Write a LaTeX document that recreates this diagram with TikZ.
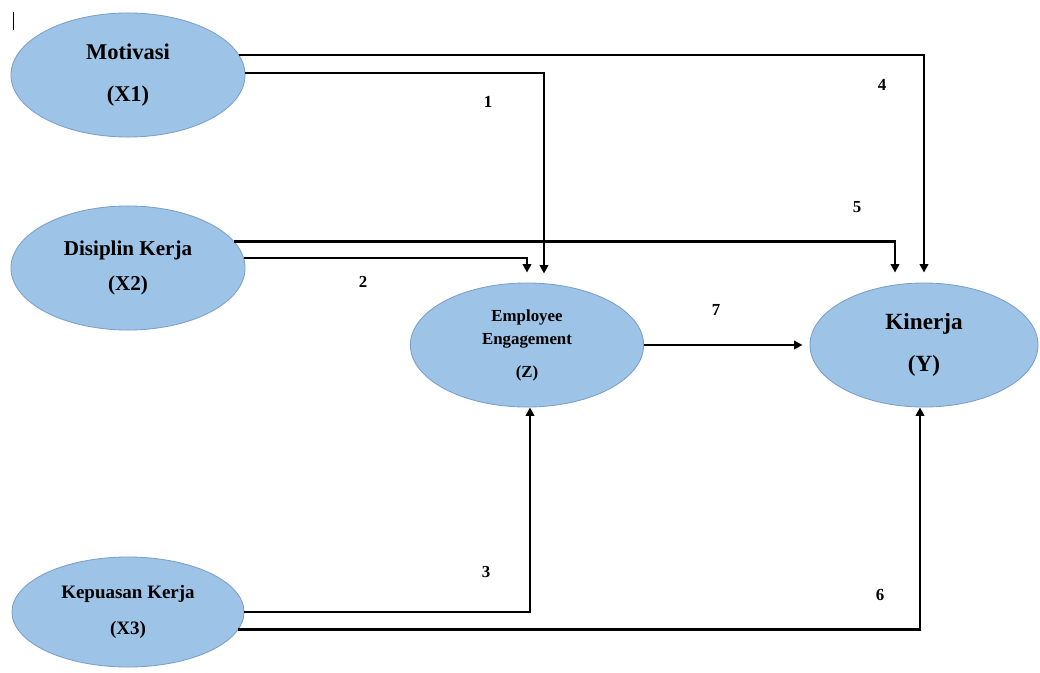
\documentclass[tikz,border=0pt]{standalone}
\usepackage{fontspec}
\setmainfont{Liberation Serif}
\usepackage{tikz}
\usetikzlibrary{positioning,arrows.meta,shapes.geometric,calc}
\definecolor{varfill}{HTML}{9DC3E6}
\definecolor{varline}{HTML}{7A9FCC}
\tikzset{
  var/.style={ellipse,draw=varline,line width=0.6pt,fill=varfill,align=center,inner sep=0pt},
  arr/.style={-{Triangle[length=6pt,width=6pt]},line width=1.5pt},
  num/.style={font=\bfseries\fontsize{12}{14}\selectfont},
}

\begin{document}
\begin{tikzpicture}[x=0.025cm,y=-0.025cm]
\useasboundingbox (0,0) rectangle (1040,672);
\draw[line width=0.7pt] (13,12) -- (13,30);
% variables
\node[var, minimum width=5.85cm, minimum height=3.1cm, font=\bfseries\fontsize{16}{30}\selectfont] (x1) at (128,75) {Motivasi\\(X1)};
\node[var, minimum width=5.85cm, minimum height=3.1cm, font=\bfseries\fontsize{15}{25}\selectfont] (x2) at (128,268) {Disiplin Kerja\\(X2)};
\node[var, minimum width=5.8cm, minimum height=2.75cm, font=\bfseries\fontsize{13.5}{25}\selectfont] (x3) at (128,612) {Kepuasan Kerja\\(X3)};
\node[var, minimum width=5.83cm, minimum height=3.1cm, font=\bfseries\fontsize{12}{16.4}\selectfont] (z) at (527,345) {Employee\\Engagement\\[7pt](Z)};
\node[var, minimum width=5.7cm, minimum height=3.1cm, font=\bfseries\fontsize{16.5}{30}\selectfont] (y) at (924,345) {Kinerja\\(Y)};
% paths
\draw[arr] (x1.10) -| ($(y.north)+(0,-10)$);
\draw[arr] (x1.1) -| ($(z.north)+(17,-9)$);
\draw[arr] (x2.14) -| ($(y.north)+(-29,-10)$);
\draw[arr] (x2.5) -| ($(z.north)+(0,-10)$);
\draw[arr] (x3.east) -| ($(z.south)+(3,0)$);
\draw[arr] (x3.-9) -| ($(y.south)+(-4,0)$);
\draw[arr] (z.east) -- ($(y.west)+(-7,0)$);
% path numbers
\node[num] (n1) at (488,102) {1};
\node[num] (n2) at (363,282) {2};
\node[num] (n3) at (486,572) {3};
\node[num] (n4) at (882,85) {4};
\node[num] (n5) at (857,207) {5};
\node[num] (n6) at (880,595) {6};
\node[num] (n7) at (716,310) {7};
\end{tikzpicture}
\end{document}
